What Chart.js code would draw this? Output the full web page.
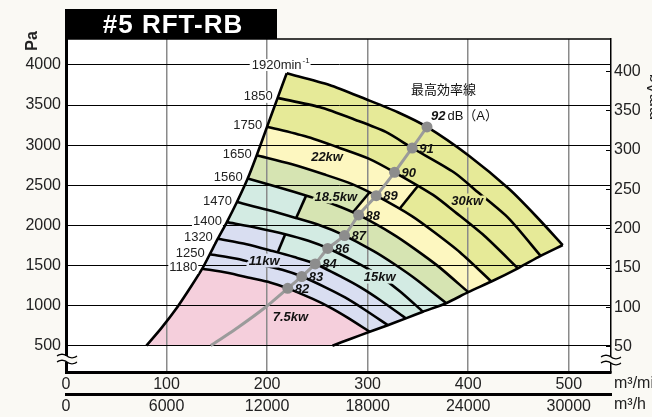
<!DOCTYPE html>
<html>
<head>
<meta charset="utf-8">
<script src="https://cdn.jsdelivr.net/npm/chart.js@4.4.1/dist/chart.umd.min.js"></script>
<style>
  html, body { margin: 0; padding: 0; background: #faf9f4; }
  #grafico { display: block; background: #fff; }
</style>
</head>
<body>
<canvas id="grafico" width="652" height="417"></canvas>
<script>
// Datos (caudal m3/min, presion Pa)
const titulo = '#5 RFT-RB';
const xTicks = [0, 100, 200, 300, 400, 500];
const x2Ticks = [0, 6000, 12000, 18000, 24000, 30000];
const yTicks = [500, 1000, 1500, 2000, 2500, 3000, 3500, 4000];
const y2Ticks = [50, 100, 150, 200, 250, 300, 350, 400];

const rpmNames = ['1180', '1250', '1320', '1400', '1470', '1560', '1650', '1750', '1850', '1920'];
const rpm1180 = [[135.5,1460],[160.5,1410],[183.7,1343],[203,1288],[220.5,1215],[245.4,1083],[262,981],[280,850],[302,674]];
const rpm1250 = [[143,1640],[170,1583],[194.6,1507],[215,1446],[234,1365],[260,1215],[277.5,1101],[296.4,954],[320,756]];
const rpm1320 = [[151,1834],[179.6,1765],[205.5,1680],[227,1605],[247,1525],[274.4,1355],[293,1227],[313,1064],[338,841]];
const rpm1400 = [[160,2041],[190.5,1968],[218,1890],[241,1808],[261,1712],[291,1524],[310.5,1380],[332,1180],[355,924]];
const rpm1470 = [[170,2291],[200,2195],[228.5,2093],[253,1999],[274,1891],[306,1680],[326,1522],[349,1320],[378,1030]];
const rpm1560 = [[180.7,2584],[212,2472],[242.5,2357],[268.5,2251],[291,2130],[325,1892],[346,1714],[370.6,1486],[400,1168]];
const rpm1650 = [[189.7,2875],[224,2765],[256.5,2637],[284,2518],[308.5,2370],[344,2116],[366,1917],[392,1662],[423,1300]];
const rpm1750 = [[200,3231],[238,3110],[272,2966],[301,2832],[326.7,2662],[365,2380],[388,2156],[416,1870],[449.4,1465]];
const rpm1850 = [[210.5,3590],[252,3475],[288,3315],[318,3165],[344.3,2965],[386,2660],[410,2410],[440,2090],[472,1620]];
const rpm1920 = [[219.5,3897],[262,3751],[298.5,3572],[330,3410],[359,3227],[401,2865],[441,2450],[468,2108],[494,1755]];

// limite de bombeo (izquierda) y limite derecho
const surge = [[80,500],[95,722],[111,986],[125,1250],[135.5,1460],[143,1640],[151,1834],[160,2041],[170,2291],[180.7,2584],[189.7,2875],[200,3231],[210.5,3590],[219.5,3897]];
const envelope = [[494,1755],[472,1620],[449.4,1465],[423,1300],[400,1168],[378,1030],[355,924],[338,841],[320,756],[302,674],[284,590],[265,500]];

// escalones entre zonas de potencia: [arriba, abajo]
const step11 = [[218,1890],[210.5,1663]];
const step15 = [[238.8,2371],[228.9,2091]];
const step18 = [[301.8,2410],[285.2,2161]];
const step22 = [[349.9,2491],[331.6,2205]];

const kwNames = ['7.5kw', '11kw', '15kw', '18.5kw', '22kw', '30kw'];

// linea de maxima eficiencia y ruido dB(A)
const effLine = [[144,500],[172,737],[199,986],[220.5,1215],[234.4,1362],[247.8,1520],[260.3,1713],[277,1873],[291,2130],[308.5,2370],[326.7,2662],[344.3,2965],[359,3227]];
const dbValues = [82, 83, 84, 86, 87, 88, 89, 90, 91, 92];

const FONT = '"Liberation Sans", Arial, "Noto Sans CJK JP", sans-serif';
const FONDO = '#faf9f4';

const curvas = [rpm1180, rpm1250, rpm1320, rpm1400, rpm1470, rpm1560, rpm1650, rpm1750, rpm1850, rpm1920];
const toXY = arr => arr.map(([x, y]) => ({x, y}));

// zona bajo una curva (con escalon opcional), cerrada por los limites
function zona(upper, step, lower) {
  let pts = surge.filter(p => p[1] < upper[0][1]);
  if (step) {
    pts = pts.concat(upper.filter(p => p[0] < step[0][0]), step, lower.filter(p => p[0] > step[1][0]));
  } else {
    pts = pts.concat(upper);
  }
  const fin = pts[pts.length - 1][1];
  pts = pts.concat(envelope.filter(p => p[1] < fin));
  return toXY(pts);
}

const zonas = [
  { data: zona(rpm1180), color: '#f5cfdc' },
  { data: zona(rpm1400, step11, rpm1320), color: '#d9def1' },
  { data: zona(rpm1560, step15, rpm1470), color: '#d3ebe3' },
  { data: zona(rpm1650, step18, rpm1560), color: '#d6e4b2' },
  { data: zona(rpm1750, step22, rpm1650), color: '#fdf7c0' },
  { data: zona(rpm1920), color: '#e6ea98' }
];

const linea = (data, extra) => Object.assign({
  data: toXY(data), borderColor: '#000', borderWidth: 2.6, pointRadius: 0,
  fill: false, tension: 0.25, xAxisID: 'x', yAxisID: 'y'
}, extra || {});

const datasets = [];
datasets.push(linea(effLine, {
  borderColor: '#9b9b9b', borderWidth: 3, tension: 0.15,
  pointRadius: effLine.map((p, i) => i >= 3 ? 5.5 : 0),
  pointBackgroundColor: '#8d8d8d', pointBorderWidth: 0
}));
curvas.forEach(c => datasets.push(linea(c)));
[step11, step15, step18, step22].forEach(s => datasets.push(linea(s, { tension: 0 })));
datasets.push(linea(surge));
datasets.push(linea(envelope));
zonas.forEach(z => datasets.push({
  data: z.data, fill: 'shape', backgroundColor: z.color,
  borderColor: 'rgba(0,0,0,0)', borderWidth: 0, pointRadius: 0, tension: 0,
  xAxisID: 'x', yAxisID: 'y'
}));

// posiciones de las etiquetas de potencia (en unidades de datos)
const kwPos = [[205.6,849],[181.7,1556],[296.1,1353],[247.1,2350],[243.8,2844],[383.1,2304]];

function onda(ctx, cx, cy) {
  ctx.save();
  ctx.fillStyle = FONDO;
  ctx.fillRect(cx - 11, cy - 3, 22, 6);
  ctx.strokeStyle = '#000';
  ctx.lineWidth = 1.3;
  [-3, 3].forEach(off => {
    ctx.beginPath();
    for (let i = 0; i <= 20; i++) {
      const x = cx - 10 + i;
      const y = cy + off + Math.sin(i / 20 * Math.PI * 2) * -1.8;
      if (i === 0) ctx.moveTo(x, y); else ctx.lineTo(x, y);
    }
    ctx.stroke();
  });
  ctx.restore();
}

const decoracion = {
  id: 'decoracion',
  beforeDraw(chart) {
    const {ctx, chartArea: a, width, height} = chart;
    ctx.save();
    ctx.fillStyle = FONDO;
    ctx.fillRect(0, 0, width, a.top);
    ctx.fillRect(0, a.bottom, width, height - a.bottom);
    ctx.fillRect(0, a.top, a.left, a.bottom - a.top);
    ctx.fillRect(a.right, a.top, width - a.right, a.bottom - a.top);
    ctx.restore();
  },
  afterDraw(chart) {
    const {ctx, chartArea: a, scales} = chart;
    const px = q => scales.x.getPixelForValue(q);
    const py = p => scales.y.getPixelForValue(p);
    ctx.save();

    // borde superior y marcas interiores del eje derecho
    ctx.strokeStyle = '#000';
    ctx.lineWidth = 1.5;
    ctx.beginPath(); ctx.moveTo(a.left, a.top); ctx.lineTo(a.right, a.top); ctx.stroke();
    ctx.lineWidth = 1;
    y2Ticks.forEach(v => {
      const y = Math.round(scales.y2.getPixelForValue(v)) + 0.5;
      ctx.beginPath(); ctx.moveTo(a.right - 5, y); ctx.lineTo(a.right, y); ctx.stroke();
    });

    // titulo
    ctx.fillStyle = '#000';
    ctx.fillRect(65, 9, 212, a.top - 9);
    ctx.fillStyle = '#fff';
    ctx.font = 'bold 26px ' + FONT;
    ctx.letterSpacing = '1px';
    ctx.textAlign = 'center';
    ctx.textBaseline = 'alphabetic';
    ctx.fillText(titulo, 173, 33);
    ctx.letterSpacing = '0px';

    // titulos de ejes
    ctx.fillStyle = '#222';
    ctx.save();
    ctx.translate(33, 41); ctx.rotate(-Math.PI / 2);
    ctx.font = 'bold 16px ' + FONT; ctx.textBaseline = 'middle'; ctx.textAlign = 'center';
    ctx.fillText('Pa', 0, 0);
    ctx.restore();
    ctx.save();
    ctx.translate(647, 97); ctx.rotate(-Math.PI / 2);
    ctx.font = '16px ' + FONT; ctx.textBaseline = 'top'; ctx.textAlign = 'center';
    ctx.fillText('mmAq', 0, 0);
    ctx.restore();
    ctx.font = '16px ' + FONT; ctx.textAlign = 'left'; ctx.textBaseline = 'middle';
    ctx.fillText('m³/min', a.right + 3, scales.x.top + 12);
    ctx.fillText('m³/h', a.right + 3, scales.x2.top + 11);

    onda(ctx, a.left + 1, 359);
    onda(ctx, a.right, 360);

    // velocidades
    ctx.font = '13px ' + FONT;
    curvas.forEach((c, i) => {
      const x = px(c[0][0]), y = py(c[0][1]);
      if (i === curvas.length - 1) {
        const y4 = py(4000);
        const x0 = x - 35;
        const w1 = ctx.measureText('1920min').width;
        ctx.fillStyle = '#fff';
        ctx.fillRect(x0 - 2, y4 - 6, w1 + 11, 12);
        ctx.fillStyle = '#222';
        ctx.textAlign = 'left';
        ctx.fillText(rpmNames[i] + 'min', x0, y4);
        ctx.font = '8px ' + FONT;
        ctx.fillText('-1', x0 + w1 + 1, y4 - 4);
        ctx.font = '13px ' + FONT;
      } else {
        const w = ctx.measureText(rpmNames[i]).width;
        ctx.fillStyle = '#fff';
        ctx.fillRect(x - 6 - w, y - 7, w + 2, 12);
        ctx.fillStyle = '#222';
        ctx.textAlign = 'right';
        ctx.fillText(rpmNames[i], x - 5, y - 1);
      }
    });

    // potencias
    ctx.font = 'italic bold 13px ' + FONT;
    ctx.textAlign = 'left';
    ctx.lineJoin = 'round';
    const fondoKw = ['#f5cfdc', '#d9def1', '#d3ebe3', '#d6e4b2', '#fdf7c0', '#e6ea98'];
    kwNames.forEach((t, i) => {
      const x = px(kwPos[i][0]), y = py(kwPos[i][1]);
      ctx.strokeStyle = fondoKw[i]; ctx.lineWidth = 5;
      ctx.strokeText(t, x, y);
      ctx.fillStyle = '#111';
      ctx.fillText(t, x, y);
    });

    // dB(A)
    const puntos = effLine.slice(3);
    puntos.forEach((p, i) => {
      const x = px(p[0]), y = py(p[1]);
      ctx.font = 'italic bold 13px ' + FONT;
      ctx.fillStyle = '#111';
      if (i < puntos.length - 1) {
        ctx.fillText(String(dbValues[i]), x + 7, y + 1);
      } else {
        ctx.fillText(String(dbValues[i]), x + 4, y - 11);
        const w = ctx.measureText(String(dbValues[i])).width;
        ctx.font = '13px ' + FONT;
        ctx.fillText('dB（A）', x + 6 + w, y - 11);
        ctx.fillText('最高効率線', x - 16, y - 37);
      }
    });
    ctx.restore();
  }
};

Chart.defaults.font.family = FONT;
Chart.defaults.color = '#222';

new Chart(document.getElementById('grafico'), {
  type: 'line',
  data: { datasets },
  options: {
    responsive: false,
    animation: false,
    devicePixelRatio: 1,
    layout: { padding: { top: 39, left: 0, right: 0, bottom: 0 } },
    plugins: {
      legend: { display: false },
      tooltip: { enabled: false },
      filler: { drawTime: 'beforeDraw' }
    },
    scales: {
      x: {
        type: 'linear', position: 'bottom', min: 0, max: 542,
        afterBuildTicks: s => { s.ticks = xTicks.map(v => ({ value: v })); },
        afterFit: s => { s.height = 22; },
        grid: { color: c => (c.tick && c.tick.value === 0) ? 'rgba(0,0,0,0)' : '#8a8a8a', lineWidth: 1.5, drawTicks: false },
        border: { color: '#000', width: 3 },
        ticks: { padding: 3, font: { size: 16 }, maxRotation: 0, autoSkip: false, callback: v => String(v) }
      },
      x2: {
        type: 'linear', position: 'bottom', min: 0, max: 32520,
        afterBuildTicks: s => { s.ticks = x2Ticks.map(v => ({ value: v })); },
        afterFit: s => { s.height = 23; },
        grid: { display: false, drawTicks: false },
        border: { color: '#000', width: 3 },
        ticks: { padding: 3, font: { size: 16 }, maxRotation: 0, autoSkip: false, callback: v => String(v) }
      },
      y: {
        type: 'linear', position: 'left', min: 172, max: 4324,
        afterBuildTicks: s => { s.ticks = yTicks.map(v => ({ value: v })); },
        afterFit: s => { s.width = 66; },
        grid: { color: '#000', lineWidth: 1, drawTicks: false },
        border: { color: '#000', width: 3 },
        ticks: { padding: 5, font: { size: 16 }, callback: v => String(v) }
      },
      y2: {
        type: 'linear', position: 'right', min: 17.54, max: 440.9,
        afterBuildTicks: s => { s.ticks = y2Ticks.map(v => ({ value: v })); },
        afterFit: s => { s.width = 41; },
        grid: { drawOnChartArea: false, drawTicks: false },
        border: { color: '#000', width: 1.5 },
        ticks: { padding: 3, font: { size: 16 }, callback: v => String(v) }
      }
    }
  },
  plugins: [decoracion]
});
</script>
</body>
</html>
